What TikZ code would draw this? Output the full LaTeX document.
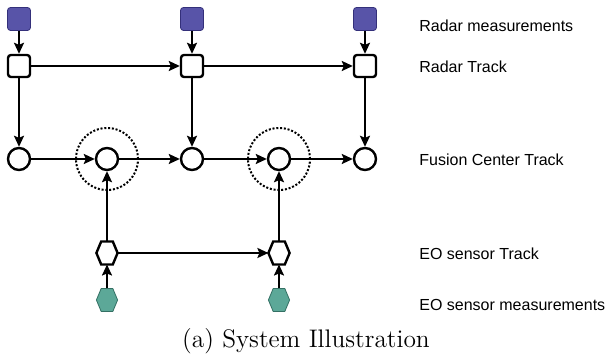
\documentclass[tikz,border=0pt]{standalone}
\usepackage{fontspec}
\newfontfamily\labelfont{Liberation Sans}
\usetikzlibrary{arrows.meta}
\definecolor{radarblue}{RGB}{88,84,168}
\definecolor{radaredge}{RGB}{52,48,122}
\definecolor{eoteal}{RGB}{92,168,152}
\definecolor{eoedge}{RGB}{52,112,100}
% hexagon drawn over an invisible box node
\newcommand{\hexat}[2]{%
  \draw[#2] (#1.west) -- ([xshift=2.4pt]#1.north west) -- ([xshift=-2.4pt]#1.north east)
    -- (#1.east) -- ([xshift=-2.4pt]#1.south east) -- ([xshift=2.4pt]#1.south west) -- cycle;}
\begin{document}
\begin{tikzpicture}[x=0.5pt,y=-0.5pt,
    radarmeas/.style={rectangle,rounded corners=1.5pt,minimum size=11.5pt,inner sep=0pt,
      fill=radarblue,draw=radaredge,line width=0.4pt},
    radartrack/.style={rectangle,rounded corners=1.5pt,minimum size=11pt,inner sep=0pt,
      fill=white,draw=black,line width=1.2pt},
    fusenode/.style={circle,minimum size=11pt,inner sep=0pt,fill=white,draw=black,line width=1.2pt},
    hexbox/.style={rectangle,minimum width=10.6pt,minimum height=11.5pt,inner sep=0pt,outer sep=0pt},
    link/.style={-{Stealth[length=5.5pt,width=5pt,inset=1pt]},line width=1pt},
    fusezone/.style={line width=1pt,dash pattern=on 1pt off 0.9pt},
    rowlabel/.style={anchor=west,inner sep=0pt,font=\labelfont\fontsize{8}{9.6}\selectfont}]
    \useasboundingbox (0,0) rectangle (606,356);

    % dotted areas round the fused nodes
    \draw[fusezone] (107,159) circle (15.5pt);
    \draw[fusezone] (279,159) circle (15.5pt);

    % radar
    \node[radarmeas] (rm1) at (19,19) {};
    \node[radarmeas] (rm2) at (192,19) {};
    \node[radarmeas] (rm3) at (365,19) {};
    \node[radartrack] (rt1) at (19,66) {};
    \node[radartrack] (rt2) at (192,66) {};
    \node[radartrack] (rt3) at (365,66) {};

    % fusion center
    \node[fusenode] (f1) at (19,159) {};
    \node[fusenode] (f2) at (107,159) {};
    \node[fusenode] (f3) at (192,159) {};
    \node[fusenode] (f4) at (279,159) {};
    \node[fusenode] (f5) at (365,159) {};

    % EO sensor
    \node[hexbox] (e1) at (107,253) {};
    \node[hexbox] (e2) at (279,253) {};
    \node[hexbox] (em1) at (107,300) {};
    \node[hexbox] (em2) at (279,300) {};
    \hexat{e1}{fill=white,draw=black,line width=1.2pt}
    \hexat{e2}{fill=white,draw=black,line width=1.2pt}
    \hexat{em1}{fill=eoteal,draw=eoedge,line width=0.4pt}
    \hexat{em2}{fill=eoteal,draw=eoedge,line width=0.4pt}

    \draw[link] (rm1) -- (rt1);
    \draw[link] (rm2) -- (rt2);
    \draw[link] (rm3) -- (rt3);
    \draw[link] (rt1) -- (rt2);
    \draw[link] (rt2) -- (rt3);
    \draw[link] (rt1) -- (f1);
    \draw[link] (rt2) -- (f3);
    \draw[link] (rt3) -- (f5);
    \draw[link] (f1) -- (f2);
    \draw[link] (f2) -- (f3);
    \draw[link] (f3) -- (f4);
    \draw[link] (f4) -- (f5);
    \draw[link] (e1) -- (f2);
    \draw[link] (e2) -- (f4);
    \draw[link] (e1) -- (e2);
    \draw[link] (em1) -- (e1);
    \draw[link] (em2) -- (e2);

    \node[rowlabel] (lrm) at (419,26) {Radar measurements};
    \node[rowlabel] (lrt) at (419,67) {Radar Track};
    \node[rowlabel] (lfc) at (419,160) {Fusion Center Track};
    \node[rowlabel] (let) at (419,254) {EO sensor Track};
    \node[rowlabel] (lem) at (419,305) {EO sensor measurements};

    \node[inner sep=0pt,font=\fontsize{12.7}{15}\selectfont] (cap) at (306,341) {(a) System Illustration};
\end{tikzpicture}
\end{document}
